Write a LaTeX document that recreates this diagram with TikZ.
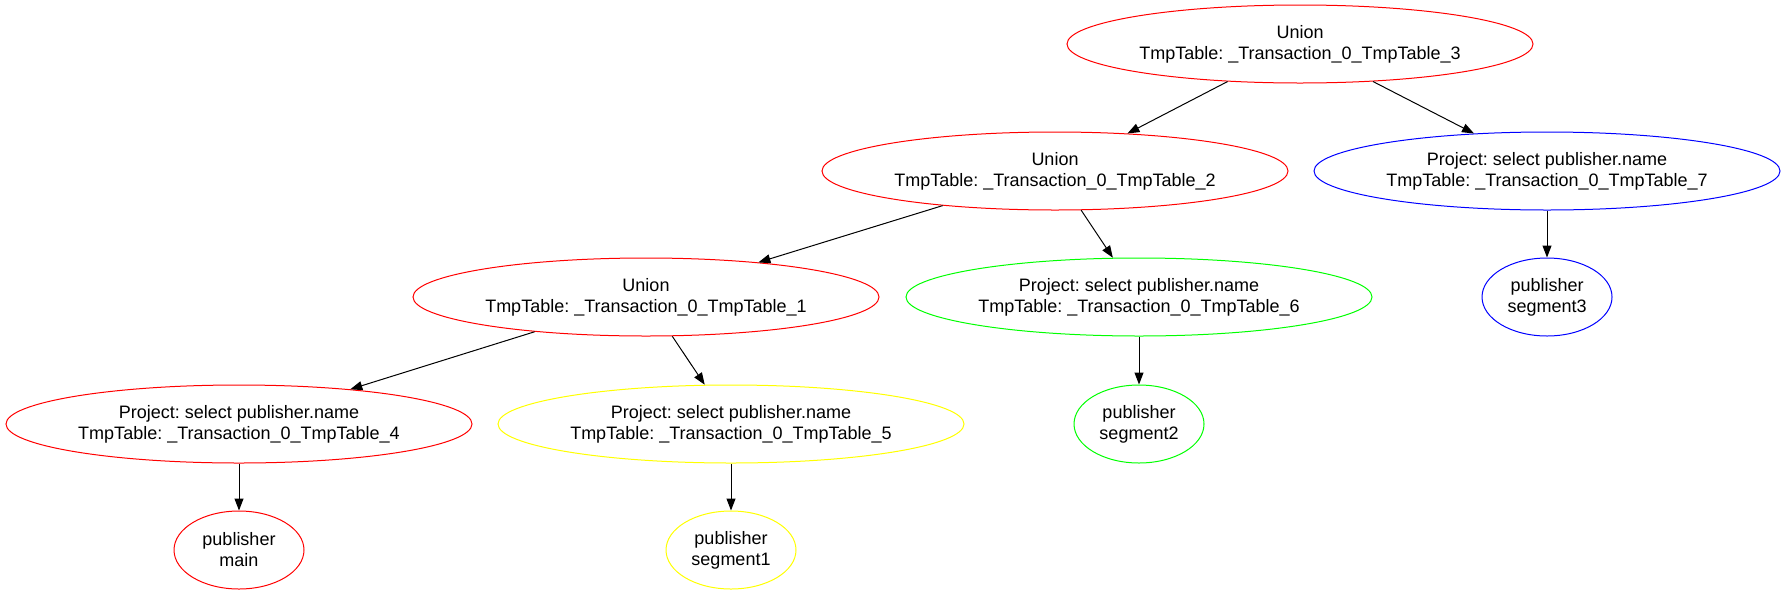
\documentclass[tikz,border=0pt]{standalone}
\usepackage{fontspec}
\setmainfont{Liberation Sans}
\usetikzlibrary{shapes.geometric,arrows.meta}

\tikzset{
  opnode/.style={ellipse,draw=#1,line width=0.5pt,minimum width=233pt,minimum height=39pt,inner sep=0pt,align=center,font=\fontsize{9pt}{10.5pt}\selectfont\frenchspacing},
  srcnode/.style={ellipse,draw=#1,line width=0.5pt,minimum width=65pt,minimum height=39pt,inner sep=0pt,align=center,font=\fontsize{9pt}{10.5pt}\selectfont},
  edge/.style={-{Triangle[length=6pt,width=4.5pt]},line width=0.5pt}
}
\definecolor{gvgreen}{RGB}{0,255,0}
\definecolor{gvyellow}{RGB}{255,255,0}
\definecolor{gvblue}{RGB}{0,0,255}
\definecolor{gvred}{RGB}{255,0,0}

\begin{document}
\begin{tikzpicture}[x=0.5pt,y=-0.5pt]
            \useasboundingbox (0,0) rectangle (1786,595);
            \node[opnode=gvred] (u3) at (1300,44) {Union\\TmpTable: \_Transaction\_0\_TmpTable\_3};
            \node[opnode=gvred] (u2) at (1055,171) {Union\\TmpTable: \_Transaction\_0\_TmpTable\_2};
            \node[opnode=gvblue] (p7) at (1547,171) {Project: select publisher.name\\TmpTable: \_Transaction\_0\_TmpTable\_7};
            \node[opnode=gvred] (u1) at (646,297) {Union\\TmpTable: \_Transaction\_0\_TmpTable\_1};
            \node[opnode=gvgreen] (p6) at (1139,297) {Project: select publisher.name\\TmpTable: \_Transaction\_0\_TmpTable\_6};
            \node[srcnode=gvblue] (s3) at (1547,297) {publisher\\segment3};
            \node[opnode=gvred] (p4) at (239,424) {Project: select publisher.name\\TmpTable: \_Transaction\_0\_TmpTable\_4};
            \node[opnode=gvyellow] (p5) at (731,424) {Project: select publisher.name\\TmpTable: \_Transaction\_0\_TmpTable\_5};
            \node[srcnode=gvgreen] (s2) at (1139,424) {publisher\\segment2};
            \node[srcnode=gvred] (smain) at (239,550) {publisher\\main};
            \node[srcnode=gvyellow] (s1) at (731,550) {publisher\\segment1};
            \draw[edge] (u3) -- (u2);
            \draw[edge] (u3) -- (p7);
            \draw[edge] (u2) -- (u1);
            \draw[edge] (u2) -- (p6);
            \draw[edge] (p7) -- (s3);
            \draw[edge] (u1) -- (p4);
            \draw[edge] (u1) -- (p5);
            \draw[edge] (p6) -- (s2);
            \draw[edge] (p4) -- (smain);
            \draw[edge] (p5) -- (s1);
        \end{tikzpicture}
\end{document}
